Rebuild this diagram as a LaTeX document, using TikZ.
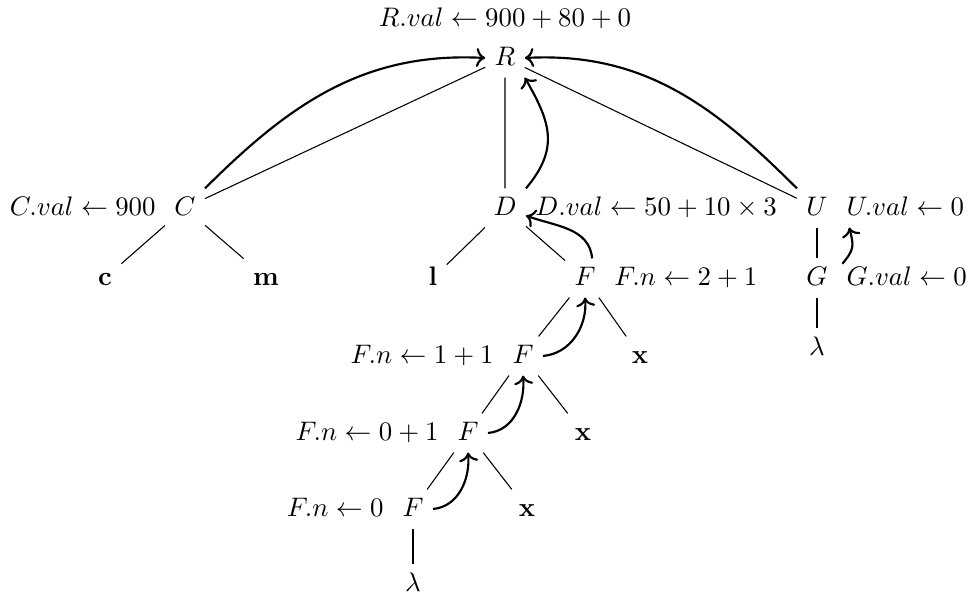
\documentclass[tikz,border=0pt]{standalone}
\usepackage{amsmath,amssymb}
\usepackage{tikz}
\usetikzlibrary{arrows.meta,positioning}
\tikzset{
  symnd/.style={text height=1.5ex, text depth=.25ex},
  attrlbl/.style={text height=1.5ex, text depth=.25ex},
  treeln/.style={thin},
  evalarr/.style={-{To}, thick},
}

\begin{document}
\begin{tikzpicture}[x=0.0131cm, y=0.0131cm, node distance=0pt]
  \useasboundingbox (0,0) rectangle (974,597);
  % parse tree
  \node[symnd] (R) at (505,539) {$R$};
  \node[symnd] (C) at (185,389) {$C$};
  \node[symnd] (D) at (505,389) {$D$};
  \node[symnd] (U) at (817,389) {$U$};
  \node[symnd] (c) at (105,319) {$\mathbf{c}$};
  \node[symnd] (m) at (266,319) {$\mathbf{m}$};
  \node[symnd] (l) at (433,319) {$\mathbf{l}$};
  \node[symnd] (F1) at (585,319) {$F$};
  \node[symnd] (G) at (817,319) {$G$};
  \node[symnd] (lamG) at (817,249) {$\lambda$};
  \node[symnd] (F2) at (523,241) {$F$};
  \node[symnd] (x2) at (640,241) {$\mathbf{x}$};
  \node[symnd] (F3) at (468,164) {$F$};
  \node[symnd] (x3) at (583,164) {$\mathbf{x}$};
  \node[symnd] (F4) at (413,88) {$F$};
  \node[symnd] (x4) at (527,88) {$\mathbf{x}$};
  \node[symnd] (lamF) at (413,13) {$\lambda$};
  % attribute values
  \node[attrlbl, above=of R] (Rv) {$R.val \leftarrow 900+80+0$};
  \node[attrlbl, left=of C] (Cv) {$C.val \leftarrow 900$};
  \node[attrlbl, right=of D] (Dv) {$D.val \leftarrow 50+10\times 3$};
  \node[attrlbl, right=of U] (Uv) {$U.val \leftarrow 0$};
  \node[attrlbl, right=of G] (Gv) {$G.val \leftarrow 0$};
  \node[attrlbl, right=of F1] (F1n) {$F.n \leftarrow 2+1$};
  \node[attrlbl, left=of F2] (F2n) {$F.n \leftarrow 1+1$};
  \node[attrlbl, left=of F3] (F3n) {$F.n \leftarrow 0+1$};
  \node[attrlbl, left=of F4] (F4n) {$F.n \leftarrow 0$};
  % tree edges
  \draw[treeln] (R) -- (C) (R) -- (D) (R) -- (U);
  \draw[treeln] (C) -- (c) (C) -- (m);
  \draw[treeln] (D) -- (l) (D) -- (F1);
  \draw[treeln] (U) -- (G) (G) -- (lamG);
  \draw[treeln] (F1) -- (F2) (F1) -- (x2);
  \draw[treeln] (F2) -- (F3) (F2) -- (x3);
  \draw[treeln] (F3) -- (F4) (F3) -- (x4);
  \draw[treeln] (F4) -- (lamF);
  % synthesized values flowing up
  \draw[evalarr] (C.north east) to[out=45, in=177] (R.west);
  \draw[evalarr] (U.north west) to[out=135, in=3] (R.east);
  \draw[evalarr] (D.north east) to[out=50, in=-60, looseness=1.2] (R.south east);
  \draw[evalarr] (F1.70) to[out=95, in=-20] (D.-20);
  \draw[evalarr] (F2.east) to[out=5, in=-85] (F1.south);
  \draw[evalarr] (F3.east) to[out=5, in=-85] (F2.south);
  \draw[evalarr] (F4.east) to[out=5, in=-85] (F3.south);
  \draw[evalarr] ([xshift=2pt,yshift=-2pt]G.north east) to[out=50, in=-75, looseness=1.3] ([xshift=4.5pt]U.south east);
\end{tikzpicture}
\end{document}
